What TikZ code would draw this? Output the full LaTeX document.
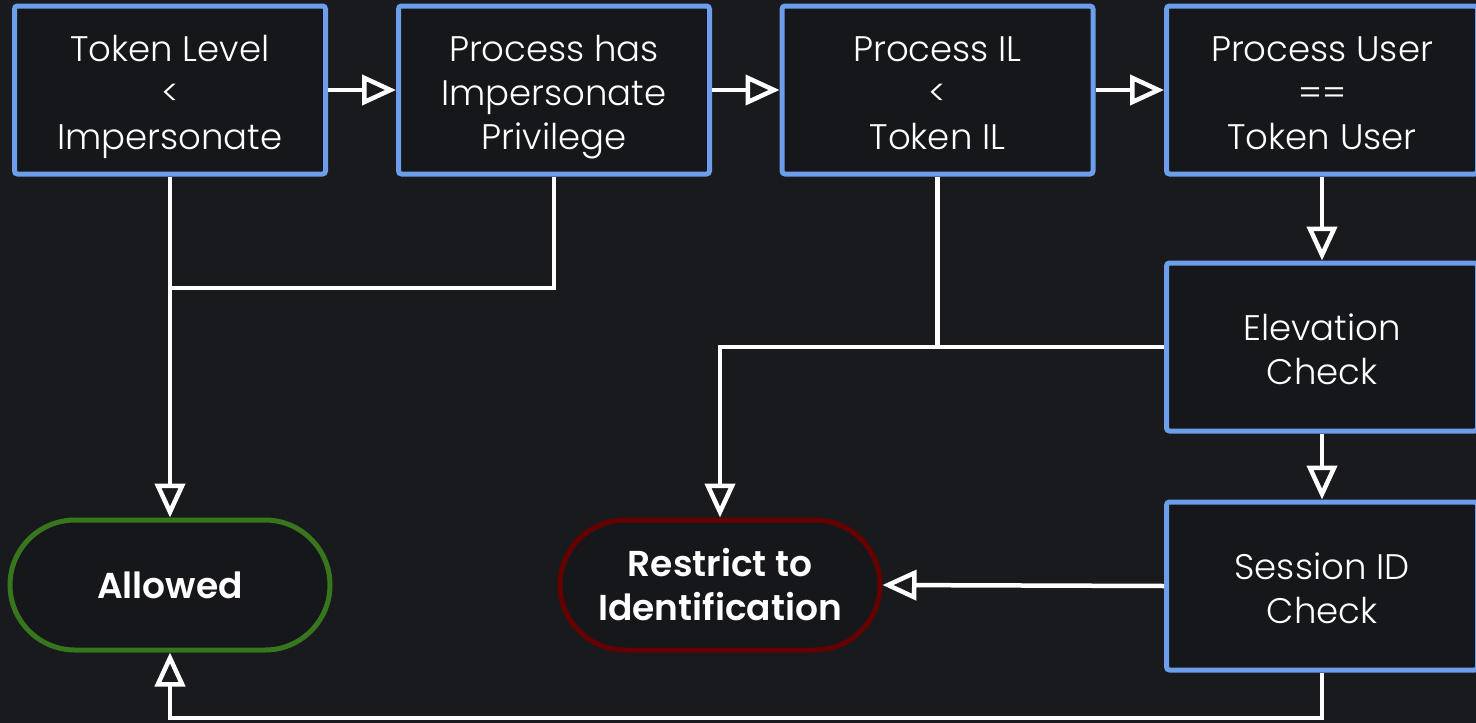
\documentclass[tikz,border=0pt]{standalone}
\usepackage{fontspec}
\setmainfont{Poppins}[UprightFont={* Light}, BoldFont={* SemiBold}]
\usetikzlibrary{arrows.meta,shapes.misc}

\definecolor{bgc}{HTML}{181A1D}
\definecolor{boxfill}{HTML}{15171A}
\definecolor{stepblue}{HTML}{6D9EEB}
\definecolor{okgreen}{HTML}{38761D}
\definecolor{denyred}{HTML}{660000}

% struts giving every text block the same top and bottom extent
\newcommand{\topline}{\rule{0pt}{43pt}}
\newcommand{\lastline}{\rule[-12pt]{0pt}{12pt}}

\tikzset{
  stepbox/.style={draw=stepblue, line width=5pt, fill=boxfill, rounded corners=3pt,
    minimum width=311pt, minimum height=168pt, inner sep=0pt, align=center,
    text=white, font=\fontsize{35.5}{44}\selectfont},
  endbox/.style={rounded rectangle, line width=5pt, fill=boxfill,
    minimum width=320pt, minimum height=130pt, inner sep=0pt, align=center,
    text=white, font=\bfseries\fontsize{36}{44}\selectfont},
  wire/.style={draw=white, line width=4.5pt},
  arr/.style={wire, -{Triangle[open, length=34pt, width=30pt]}},
}

\begin{document}
\begin{tikzpicture}[x=1pt, y=-1pt]
  \fill[bgc] (0,0) rectangle (1476,723);
  \useasboundingbox (0,0) rectangle (1476,723);

  % decision steps, top row
  \node[stepbox] (lvl)  at (170,90)   {\topline Token Level\\<\\Impersonate\lastline};
  \node[stepbox] (priv) at (554,90)   {\topline Process has\\Impersonate\\Privilege\lastline};
  \node[stepbox] (il)   at (937.5,90) {\topline Process IL\\<\\Token IL\lastline};
  \node[stepbox] (usr)  at (1322,90)  {\topline Process User\\==\\Token User\lastline};
  % right column
  \node[stepbox] (elev) at (1322,347) {\topline Elevation\\Check\lastline};
  \node[stepbox] (sess) at (1322,586) {\topline Session ID\\Check\lastline};

  % outcomes
  \node[endbox, draw=okgreen] (allow) at (170,585) {Allowed};
  \node[endbox, draw=denyred] (ident) at (720,585) {Restrict to\\Identification};

  % junction points
  \coordinate (j1) at (170,288);
  \coordinate (j2) at (937.5,347);
  \coordinate (bot) at (0,718);

  % main chain
  \draw[arr] (lvl) -- (priv);
  \draw[arr] (priv) -- (il);
  \draw[arr] (il) -- (usr);
  \draw[arr] (usr) -- (elev);
  \draw[arr] (elev) -- (sess);

  % branches
  \draw[arr] (lvl.south) -- (allow.north);
  \draw[wire] (priv.south) |- (j1);
  \draw[wire] (il.south) -- (j2);
  \draw[arr] (elev.west) -| (ident.north);
  \draw[arr] (sess.west) -- (ident.east);
  \draw[arr] (sess.south) -- (sess.south |- bot) -| (allow.south);
\end{tikzpicture}
\end{document}
